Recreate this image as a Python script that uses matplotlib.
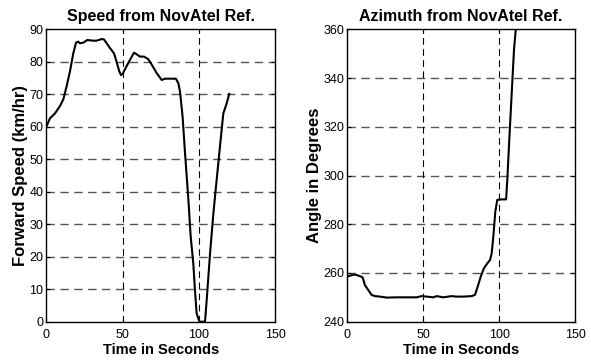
import matplotlib
matplotlib.use("Agg")
import matplotlib.pyplot as plt

# speed trace
speed_t = [0, 2.4, 5.7, 9, 11.2, 13.3, 15.5, 17.7, 19.5, 21, 22, 24.3, 26.9, 30.8, 33,
           36.3, 37.8, 39.6, 41.8, 44.4, 46.1, 47.9, 49, 50.1, 51.6, 54.9, 57.5, 59.3,
           61.4, 64.1, 66.9, 69.7, 72.4, 75.7, 77.8, 81.1, 85, 86.6, 87.7, 89.4, 91,
           93.2, 94.7, 96.4, 97.5, 98.6, 99.7, 100.4, 104.1, 105.2, 107.4, 109.6,
           111.3, 113.9, 116.1, 118.3, 120]
speed_v = [60, 62.6, 64.1, 66.4, 68.5, 72.4, 77, 82.6, 85.9, 86.2, 85.7, 85.9, 86.7,
           86.5, 86.5, 87, 86.9, 85.7, 84.2, 82.6, 80, 77, 75.9, 76.3, 77.7, 80.6,
           82.8, 82.3, 81.6, 81.6, 80.8, 78.7, 76.5, 74.4, 74.8, 74.8, 74.8, 73.4,
           70.8, 63.1, 51.8, 37.5, 26.2, 18, 9.7, 2.6, 1, 0, 0, 6.7, 21, 33.4, 41.6,
           53.9, 64.1, 67.2, 70.1]

# azimuth trace
az_t = [0, 1.8, 5, 8.3, 10.1, 11.6, 13.8, 16, 18.2, 21.5, 25.9, 32.5, 39.1, 45.7, 49,
        52.3, 56.7, 58.9, 63.3, 68.7, 72, 76.4, 81.9, 84.1, 85.9, 87.9, 90, 92.3, 94,
        95.1, 96.2, 97.5, 98.8, 101.7, 104.6, 105.4, 106.7, 108.3, 109.8, 110.9]
az_v = [258.5, 258.9, 259.4, 258.7, 258.2, 255, 253, 251, 250.5, 250.3, 249.9, 250,
        250, 250, 250.5, 250.3, 250, 250.5, 250, 250.5, 250.3, 250.3, 250.5, 251,
        254.4, 258.5, 261.9, 264, 265.3, 268, 274.9, 285.2, 290, 290.2, 290.2, 298.2,
        314.6, 333.7, 351.5, 359.3]

x_ticks = [0, 50, 100, 150]
speed_ticks = list(range(0, 91, 10))
az_ticks = list(range(240, 361, 20))

plt.rcParams['font.family'] = ['Liberation Sans', 'DejaVu Sans']

fig = plt.figure(figsize=(5.91, 3.62), dpi=100)
ax1 = fig.add_axes([46.3 / 591, 1 - 321.7 / 362, (275 - 46.3) / 591, (321.7 - 29.3) / 362])
ax2 = fig.add_axes([347.3 / 591, 1 - 321.7 / 362, (575 - 347.3) / 591, (321.7 - 29.3) / 362])


def style(ax, yticks, title, ylabel):
    ax.set_xlim(0, 150)
    ax.set_ylim(yticks[0], yticks[-1])
    ax.set_xticks(x_ticks)
    ax.set_yticks(yticks)
    for y in yticks[1:-1]:
        ax.axhline(y, color='#555555', lw=1.0, dashes=(6, 4), zorder=1)
    for x in x_ticks[1:-1]:
        ax.axvline(x, color='black', lw=0.8, dashes=(6, 4), zorder=1)
    ax.tick_params(direction='in', length=3, labelsize=9, top=True, right=True)
    ax.tick_params(axis='x', pad=5)
    ax.tick_params(axis='y', pad=2)
    ax.set_title(title, fontsize=11.5, fontweight='bold', pad=6)
    ax.set_xlabel("Time in Seconds", fontsize=10.5, fontweight='bold', labelpad=2)
    ax.set_ylabel(ylabel, fontsize=12, fontweight='bold', labelpad=1)
    for s in ax.spines.values():
        s.set_linewidth(1.0)


style(ax1, speed_ticks, "Speed from NovAtel Ref.", "Forward Speed (km/hr)")
ax1.plot(speed_t, speed_v, color='black', lw=1.5, zorder=3)

style(ax2, az_ticks, "Azimuth from NovAtel Ref.", "Angle in Degrees")
ax2.plot(az_t, az_v, color='black', lw=1.5, zorder=3)

fig.savefig("out.png", dpi=100)
